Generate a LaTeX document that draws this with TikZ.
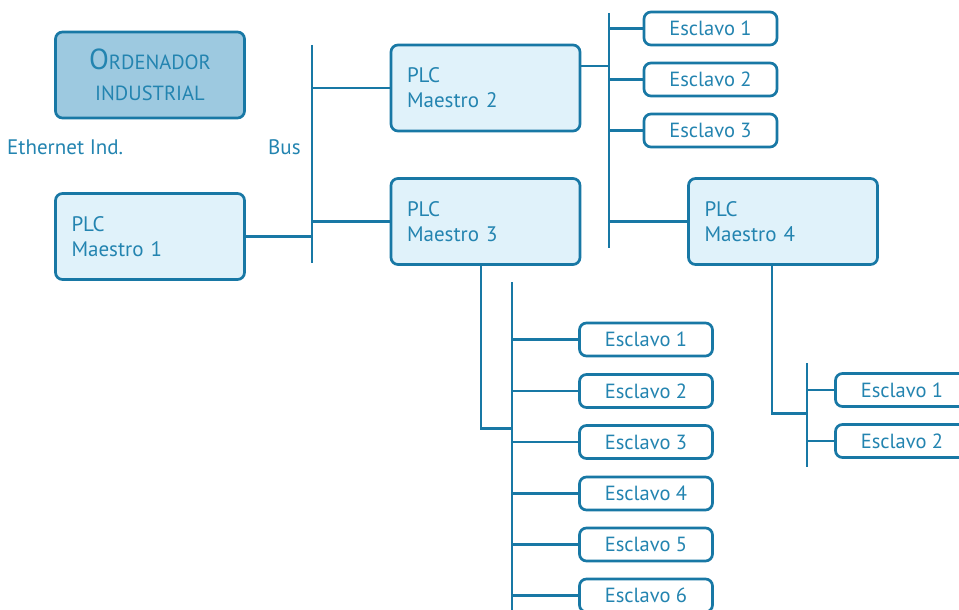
\documentclass[tikz,border=0pt]{standalone}
\usepackage{fontspec}
\setmainfont{PT Sans}
\definecolor{netline}{HTML}{1878A5}
\definecolor{nettext}{HTML}{2384B0}
\definecolor{boxfill}{HTML}{E0F2FA}
\definecolor{pcfill}{HTML}{9DC9E0}
\tikzset{
  unitbox/.style={draw=netline, line width=2.7pt, rounded corners=7pt, fill=boxfill, text=nettext},
  plcbox/.style={unitbox, minimum height=86pt, text width=157pt, inner xsep=16pt, inner ysep=0pt,
    align=left, font=\fontsize{21}{25}\selectfont},
  slavebox/.style={unitbox, fill=white, minimum width=133pt, minimum height=33pt, inner sep=0pt,
    font=\fontsize{20.5}{22}\selectfont},
  wire/.style={draw=netline, line width=2.7pt},
  caption/.style={text=nettext, inner sep=0pt, font=\fontsize{21}{24}\selectfont}
}
\begin{document}
\begin{tikzpicture}[x=1pt,y=-1pt]
\useasboundingbox (0,0) rectangle (959,610);

% industrial computer
\node[unitbox, fill=pcfill, minimum width=189pt, minimum height=86pt, align=center,
  font=\fontsize{20.5}{31}\selectfont] (pc) at (150,75)
  {{\fontsize{29}{31}\selectfont O}RDENADOR\\INDUSTRIAL};

\node[caption, anchor=west] (eth) at (7,147) {Ethernet Ind.};
\node[caption, anchor=west] (buslbl) at (268,147) {Bus};

% masters
\node[plcbox] (m1) at (150,236.5) {PLC\\Maestro 1};
\node[plcbox] (m2) at (485.5,88) {PLC\\Maestro 2};
\node[plcbox] (m3) at (485.5,221.5) {PLC\\Maestro 3};
\node[plcbox] (m4) at (783,221.5) {PLC\\Maestro 4};

% slaves of master 2
\node[slavebox] (s21) at (710.5,28.5) {Esclavo 1};
\node[slavebox] (s22) at (710.5,79.5) {Esclavo 2};
\node[slavebox] (s23) at (710.5,130.5) {Esclavo 3};

% slaves of master 3
\node[slavebox] (s31) at (646,339.5) {Esclavo 1};
\node[slavebox] (s32) at (646,391) {Esclavo 2};
\node[slavebox] (s33) at (646,442) {Esclavo 3};
\node[slavebox] (s34) at (646,493.5) {Esclavo 4};
\node[slavebox] (s35) at (646,544.5) {Esclavo 5};
\node[slavebox] (s36) at (646,595.5) {Esclavo 6};

% slaves of master 4
\node[slavebox] (s41) at (902,390) {Esclavo 1};
\node[slavebox] (s42) at (902,441) {Esclavo 2};

% bus lines
\coordinate (b1t) at (312,45);
\coordinate (b1b) at (312,263);
\coordinate (b2t) at (609,13);
\coordinate (b2b) at (609,248);
\coordinate (b3t) at (512,282);
\coordinate (b3b) at (512,612);
\coordinate (j3) at (512,428.5);
\coordinate (b4t) at (807,363);
\coordinate (b4b) at (807,467);
\coordinate (j4) at (807,413.5);

\draw[wire] (b1t) -- (b1b);
\draw[wire] (b2t) -- (b2b);
\draw[wire] (b3t) -- (b3b);
\draw[wire] (b4t) -- (b4b);

\draw[wire] (m1.east) -- (m1.east -| b1t);
\draw[wire] (m2.west) -- (m2.west -| b1t);
\draw[wire] (m3.west) -- (m3.west -| b1t);

\draw[wire] ([yshift=22pt]m2.east) -- ([yshift=22pt]m2.east -| b2t);
\foreach \s in {s21,s22,s23} \draw[wire] (\s.west) -- (\s.west -| b2t);
\draw[wire] (m4.west) -- (m4.west -| b2t);

\draw[wire] ([xshift=-4.5pt]m3.south) |- (j3);
\foreach \s in {s31,s32,s33,s34,s35,s36} \draw[wire] (\s.west) -- (\s.west -| b3t);

\draw[wire] ([xshift=-11pt]m4.south) |- (j4);
\foreach \s in {s41,s42} \draw[wire] (\s.west) -- (\s.west -| b4t);
\end{tikzpicture}
\end{document}
